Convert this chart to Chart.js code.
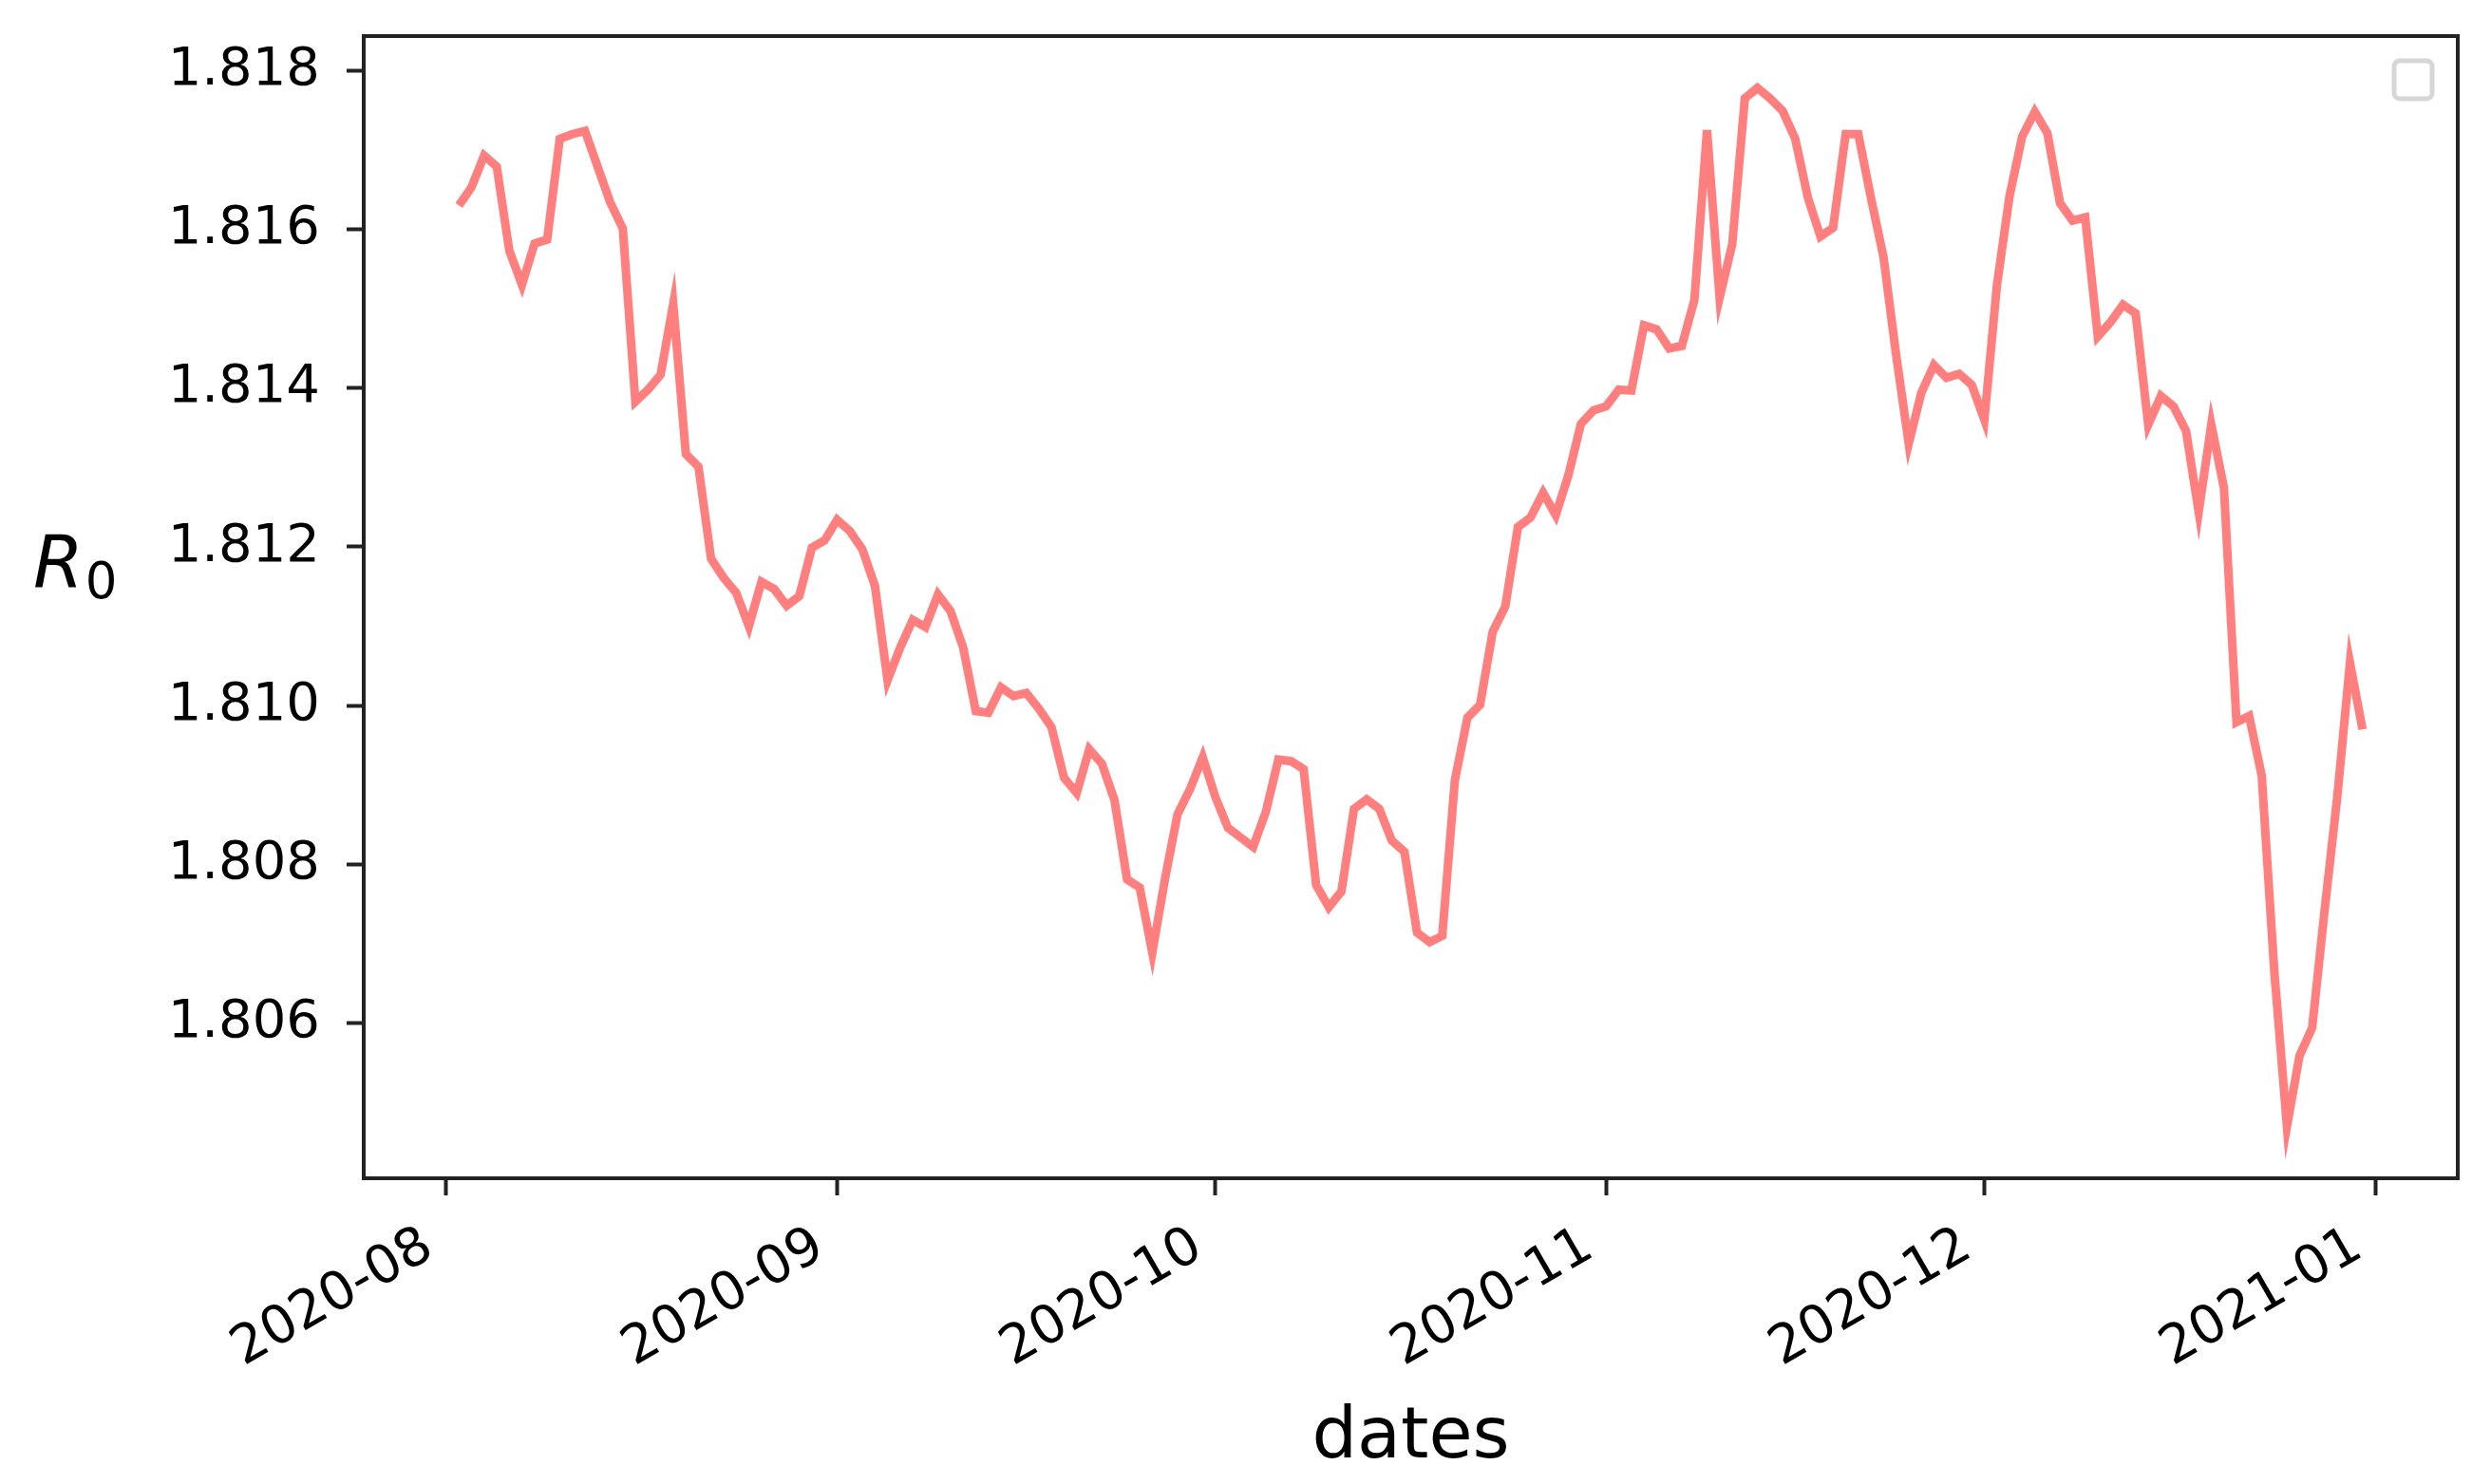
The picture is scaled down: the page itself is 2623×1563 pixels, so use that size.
<!DOCTYPE html>
<html>
<head>
<meta charset="utf-8">
<title>R0 over dates</title>
<script src="https://cdn.jsdelivr.net/npm/chart.js@4.4.1/dist/chart.umd.min.js"></script>
<style>
    html, body { margin: 0; padding: 0; background: #ffffff; }
    #wrap { width: 2623px; height: 1563px; position: relative; }
</style>
</head>
<body>
<div id="wrap"><canvas id="r0Chart"></canvas></div>
<script>
// ---- data ----
const startDate = "2020-08-02";   // first daily point
const r0Values = [
    1.81630, 1.81653, 1.81693, 1.81679, 1.81573, 1.81530, 1.81582, 1.81587, 1.81714, 1.81720,
    1.81724, 1.81679, 1.81634, 1.81601, 1.81383, 1.81398, 1.81417, 1.81506, 1.81317, 1.81301,
    1.81185, 1.81161, 1.81142, 1.81100, 1.81156, 1.81147, 1.81126, 1.81138, 1.81199, 1.81208,
    1.81234, 1.81220, 1.81197, 1.81151, 1.81032, 1.81073, 1.81108, 1.81099, 1.81140, 1.81119,
    1.81073, 1.80993, 1.80991, 1.81023, 1.81012, 1.81016, 1.80996, 1.80973, 1.80909, 1.80890,
    1.80945, 1.80927, 1.80881, 1.80781, 1.80771, 1.80689, 1.80781, 1.80863, 1.80895, 1.80935,
    1.80885, 1.80846, 1.80834, 1.80822, 1.80866, 1.80932, 1.80930, 1.80920, 1.80774, 1.80746,
    1.80766, 1.80870, 1.80882, 1.80870, 1.80830, 1.80816, 1.80714, 1.80702, 1.80710, 1.80906,
    1.80985, 1.81001, 1.81093, 1.81125, 1.81225, 1.81237, 1.81268, 1.81240, 1.81290, 1.81355,
    1.81372, 1.81377, 1.81398, 1.81397, 1.81479, 1.81474, 1.81450, 1.81453, 1.81511, 1.81725,
    1.81514, 1.81581, 1.81765, 1.81778, 1.81765, 1.81749, 1.81714, 1.81640, 1.81591, 1.81602,
    1.81720, 1.81720, 1.81640, 1.81565, 1.81442, 1.81330, 1.81394, 1.81429, 1.81413, 1.81418,
    1.81404, 1.81360, 1.81530, 1.81642, 1.81717, 1.81748, 1.81721, 1.81633, 1.81611, 1.81615,
    1.81465, 1.81483, 1.81505, 1.81494, 1.81354, 1.81390, 1.81377, 1.81346, 1.81244, 1.81354,
    1.81275, 1.80979, 1.80987, 1.80912, 1.80665, 1.80470, 1.80559, 1.80594, 1.80744, 1.80886,
    1.81054, 1.80970
];
const monthTicks = ["2020-08", "2020-09", "2020-10", "2020-11", "2020-12", "2021-01"];
const yTicks = [1.806, 1.808, 1.810, 1.812, 1.814, 1.816, 1.818];

document.addEventListener("DOMContentLoaded", function () {
    const DAY = 86400000;
    const origin = Date.parse(monthTicks[0] + "-01T00:00:00Z");
    const dayOf = s => (Date.parse(s + "T00:00:00Z") - origin) / DAY;

    const startDay = dayOf(startDate);
    const points = r0Values.map((v, i) => ({ x: startDay + i, y: v }));
    const monthDays = monthTicks.map(m => dayOf(m + "-01"));

    // matplotlib style 5% margins
    const xFirst = points[0].x, xLast = points[points.length - 1].x;
    const xPad = (xLast - xFirst) * 0.05;
    const yMin = Math.min(...r0Values), yMax = Math.max(...r0Values);
    const yPad = (yMax - yMin) * 0.05;

    Chart.defaults.font.family = '"DejaVu Sans", sans-serif';
    Chart.defaults.color = "#000000";

    const INK = "#222222";

    // frame on all four sides, empty legend box, R0 label
    const decorPlugin = {
        id: "decor",
        afterDatasetsDraw(chart) {
            const { ctx, chartArea: a } = chart;
            ctx.save();
            ctx.strokeStyle = INK;
            ctx.lineWidth = 4;
            ctx.strokeRect(a.left, a.top, a.right - a.left, a.bottom - a.top);

            // empty legend frame (upper right)
            const size = 40;
            const lx = a.right - 27 - size, ly = a.top + 26;
            ctx.strokeStyle = "#d6d6d6";
            ctx.lineWidth = 5;
            ctx.beginPath();
            ctx.roundRect(lx, ly, size, size, 6);
            ctx.stroke();
            ctx.restore();
        },
        afterDraw(chart) {
            const { ctx, chartArea: a } = chart;
            const base = (a.top + a.bottom) / 2 - 21;
            ctx.save();
            ctx.fillStyle = "#000000";
            ctx.textBaseline = "alphabetic";
            ctx.textAlign = "left";
            ctx.font = 'italic 76px "DejaVu Sans"';
            ctx.fillText("R", 35, base);
            const w = ctx.measureText("R").width;
            ctx.font = '53px "DejaVu Sans"';
            ctx.fillText("0", 35 + w + 2, base + 11);
            ctx.restore();
        }
    };

    new Chart(document.getElementById("r0Chart"), {
        type: "line",
        data: {
            datasets: [{
                label: "R0",
                data: points,
                borderColor: "rgba(255,0,0,0.5)",
                borderWidth: 9,
                pointRadius: 0,
                tension: 0,
                fill: false
            }]
        },
        options: {
            responsive: true,
            maintainAspectRatio: false,
            animation: false,
            layout: { padding: { top: 38, right: 35, left: 0, bottom: 0 } },
            plugins: {
                legend: { display: false },
                tooltip: { enabled: false }
            },
            scales: {
                x: {
                    type: "linear",
                    min: xFirst - xPad,
                    max: xLast + xPad,
                    afterBuildTicks: scale => {
                        scale.ticks = monthDays.map(v => ({ value: v }));
                    },
                    afterFit: scale => {
                        scale.height = 322;
                        scale.paddingLeft = 0;
                        scale.paddingRight = 0;
                    },
                    border: { display: false },
                    grid: {
                        drawOnChartArea: false,
                        drawTicks: true,
                        tickLength: 18,
                        tickWidth: 4,
                        tickColor: INK
                    },
                    ticks: {
                        autoSkip: false,
                        minRotation: 30,
                        maxRotation: 30,
                        padding: 21,
                        labelOffset: -18,
                        color: "#000000",
                        font: { size: 56 },
                        callback: v => {
                            const i = monthDays.indexOf(v);
                            return i >= 0 ? monthTicks[i] : "";
                        }
                    },
                    title: {
                        display: true,
                        text: "dates",
                        color: "#000000",
                        font: { size: 75 },
                        padding: { top: 0, bottom: 2 }
                    }
                },
                y: {
                    min: yMin - yPad,
                    max: yMax + yPad,
                    afterBuildTicks: scale => {
                        scale.ticks = yTicks.map(v => ({ value: v }));
                    },
                    afterFit: scale => {
                        scale.width = 383;
                        // labels may overhang the plot edge, as in matplotlib
                        scale.paddingTop = 0;
                        scale.paddingBottom = 0;
                    },
                    border: { display: false },
                    grid: {
                        drawOnChartArea: false,
                        drawTicks: true,
                        tickLength: 18,
                        tickWidth: 4,
                        tickColor: INK
                    },
                    ticks: {
                        padding: 28,
                        color: "#000000",
                        font: { size: 56 },
                        callback: v => v.toFixed(3)
                    }
                }
            }
        },
        plugins: [decorPlugin]
    });
});
</script>
</body>
</html>
